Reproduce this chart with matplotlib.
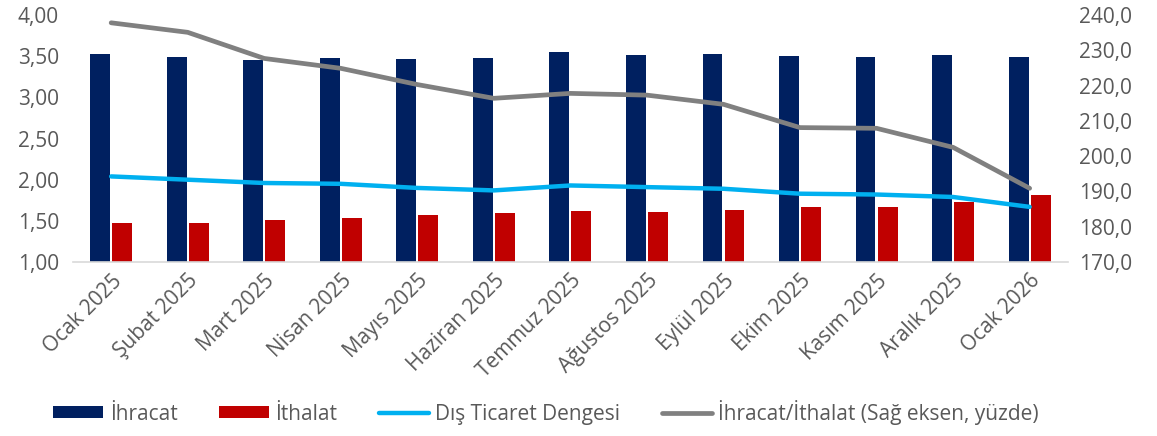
import numpy as np
import matplotlib
matplotlib.use('Agg')
import matplotlib.pyplot as plt
from matplotlib.ticker import FuncFormatter

plt.rcParams['font.family'] = ['Open Sans', 'DejaVu Sans']

# ── data ──────────────────────────────────────────────────────────────────────
months = ['Ocak 2025', 'Şubat 2025', 'Mart 2025', 'Nisan 2025', 'Mayıs 2025',
          'Haziran 2025', 'Temmuz 2025', 'Ağustos 2025', 'Eylül 2025',
          'Ekim 2025', 'Kasım 2025', 'Aralık 2025', 'Ocak 2026']
ihracat = [3.53, 3.49, 3.46, 3.48, 3.47, 3.48, 3.55, 3.52, 3.53, 3.50, 3.49, 3.52, 3.49]
ithalat = [1.47, 1.48, 1.51, 1.54, 1.57, 1.60, 1.62, 1.61, 1.63, 1.67, 1.67, 1.73, 1.81]
denge = [2.04, 2.00, 1.96, 1.95, 1.90, 1.87, 1.93, 1.91, 1.89, 1.83, 1.82, 1.79, 1.67]
oran = [237.8, 235.1, 227.7, 224.9, 220.3, 216.4, 217.8, 217.3, 214.7,
        208.1, 207.9, 202.5, 190.9]

navy = '#002060'
red = '#C00000'
blue = '#00B0F0'
gray = '#808080'
txt = '#595959'

x = np.arange(len(months))
fig = plt.figure(figsize=(11.57, 4.36), dpi=100)
ax = fig.add_axes([0.063, 0.399, 0.860, 0.5665])
ax2 = ax.twinx()

w = 0.26
b1 = ax.bar(x - 0.144, ihracat, width=w, color=navy, zorder=2, label='İhracat')
b2 = ax.bar(x + 0.144, ithalat, width=w, color=red, zorder=2, label='İthalat')
l1, = ax.plot(x, denge, color=blue, lw=3.2, zorder=3, solid_capstyle='round',
              label='Dış Ticaret Dengesi')
l2, = ax2.plot(x, oran, color=gray, lw=3.4, solid_capstyle='round',
               label='İhracat/İthalat (Sağ eksen, yüzde)')

ax.set_xlim(-0.5, len(months) - 0.5)
ax.set_ylim(1.0, 4.0)
ax.set_yticks(np.arange(1.0, 4.01, 0.5))
ax.yaxis.set_major_formatter(FuncFormatter(lambda v, p: f'{v:.2f}'.replace('.', ',')))
ax2.set_ylim(170, 240)
ax2.set_yticks(np.arange(170, 241, 10))
ax2.yaxis.set_major_formatter(FuncFormatter(lambda v, p: f'{v:.1f}'.replace('.', ',')))

ax.set_xticks(x)
ax.set_xticklabels(months, rotation=45, ha='right', rotation_mode='anchor')

for a in (ax, ax2):
    for s in a.spines.values():
        s.set_visible(False)
    a.tick_params(length=0, labelsize=15, colors=txt)
ax.spines['bottom'].set_visible(True)
ax.spines['bottom'].set_color('#D9D9D9')
ax.spines['bottom'].set_linewidth(1.2)
ax.tick_params(axis='x', pad=6)
ax.tick_params(axis='y', pad=10)
ax2.tick_params(axis='y', pad=8)

fig.legend(handles=[b1, b2, l1, l2], loc='center', ncol=4,
           bbox_to_anchor=(0.472, 0.055), frameon=False, fontsize=15,
           labelcolor=txt, handlelength=2.4, handleheight=0.55,
           handletextpad=0.3, columnspacing=2.0)

fig.savefig('out.png', dpi=100)
